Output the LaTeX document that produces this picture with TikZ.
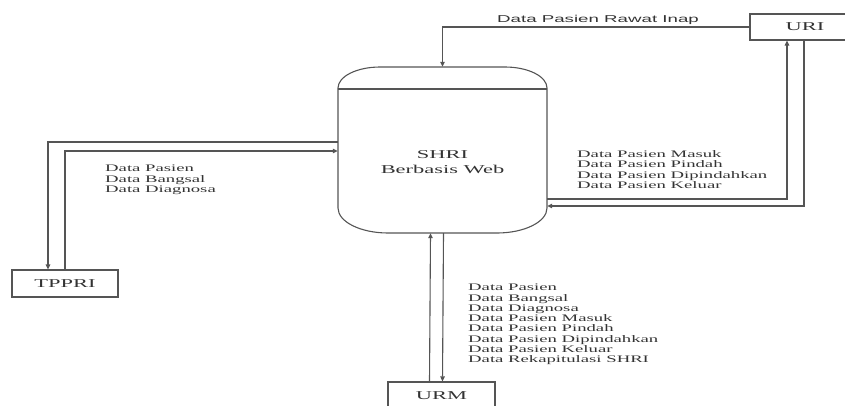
\documentclass[tikz,border=0pt]{standalone}
\usepackage{fontspec}
\usetikzlibrary{arrows.meta,calc}
\newfontfamily\rmx[FakeStretch=1.87]{Liberation Serif}
\newfontfamily\sfx[FakeStretch=1.87]{Liberation Sans}
\definecolor{ln}{HTML}{555555}
\definecolor{tx}{HTML}{333333}
\tikzset{
  conn/.style={draw=ln, line width=1.1pt, -{Triangle[length=5pt,width=4.5pt]}},
  extbox/.style={draw=ln, line width=1.1pt, rectangle, inner sep=0pt, text=tx,
     font=\rmx\fontsize{12}{14}\selectfont},
  lbl/.style={inner sep=0pt, align=left, text=tx, font=\rmx\fontsize{10}{10.3}\selectfont},
  sflbl/.style={inner sep=0pt, text=tx, font=\sfx\fontsize{10}{12}\selectfont},
  store/.style={rectangle, inner sep=0pt, minimum width=209pt, minimum height=166pt},
  storetext/.style={inner sep=0pt, align=center, text=tx, font=\rmx\fontsize{12}{15}\selectfont}
}
\begin{document}
\begin{tikzpicture}[x=1pt,y=-1pt]
\useasboundingbox (0,0) rectangle (845,405);
\clip (0,0) rectangle (845,405);
% central store
\node[store] (shri) at (442.5,150) {};
\draw[ln, line width=1.1pt]
  (338,208) -- (338,88)
  .. controls (338,76.4) and (356.9,67) .. (380,67)
  -- (505,67)
  .. controls (528.1,67) and (547,76.4) .. (547,88)
  -- (547,208)
  .. controls (547,221.8) and (524.5,233) .. (497,233)
  -- (388,233)
  .. controls (360.5,233) and (338,221.8) .. (338,208) -- cycle;
\draw[ln, line width=1.1pt] (338,89) -- (547,89);
\node[storetext] (shrilbl) at (442.5,162.5) {SHRI\\Berbasis Web};
% external entities
\node[extbox, minimum width=110pt, minimum height=26pt] (uri) at (805,27) {URI};
\node[extbox, minimum width=106pt, minimum height=27pt] (tppri) at (65,283.5) {TPPRI};
\node[extbox, minimum width=107pt, minimum height=28pt] (urm) at (441.5,396) {URM};
% URI -> SHRI
\draw[conn] (uri.west) -| (shri.north);
\node[sflbl, anchor=base] (l1) at (598,22.5) {Data Pasien Rawat Inap};
% SHRI <-> TPPRI
\draw[conn] (shri.west |- {(0,142)}) -| ([xshift=-17pt]tppri.north);
\draw[conn] (tppri.north) |- (shri.west |- {(0,151)});
\node[lbl, anchor=west] (l2) at (105,180) {Data Pasien\\Data Bangsal\\Data Diagnosa};
% SHRI <-> URI
\draw[conn] (shri.east |- {(0,199)}) -| ([xshift=-18pt]uri.south);
\draw[conn] ([xshift=-1pt]uri.south) |- (shri.east |- {(0,206)});
\node[lbl, anchor=west] (l3) at (577,169.5) {Data Pasien Masuk\\Data Pasien Pindah\\Data Pasien Dipindahkan\\Data Pasien Keluar};
% SHRI <-> URM
\draw[conn] ([xshift=-12pt]urm.north) -- ([xshift=-12pt]shri.south);
\draw[conn] ([xshift=1pt]shri.south) -- ([xshift=1pt]urm.north);
\node[lbl, anchor=west] (l4) at (468,324.5) {Data Pasien\\Data Bangsal\\Data Diagnosa\\Data Pasien Masuk\\Data Pasien Pindah\\Data Pasien Dipindahkan\\Data Pasien Keluar\\Data Rekapitulasi SHRI};
\end{tikzpicture}
\end{document}
